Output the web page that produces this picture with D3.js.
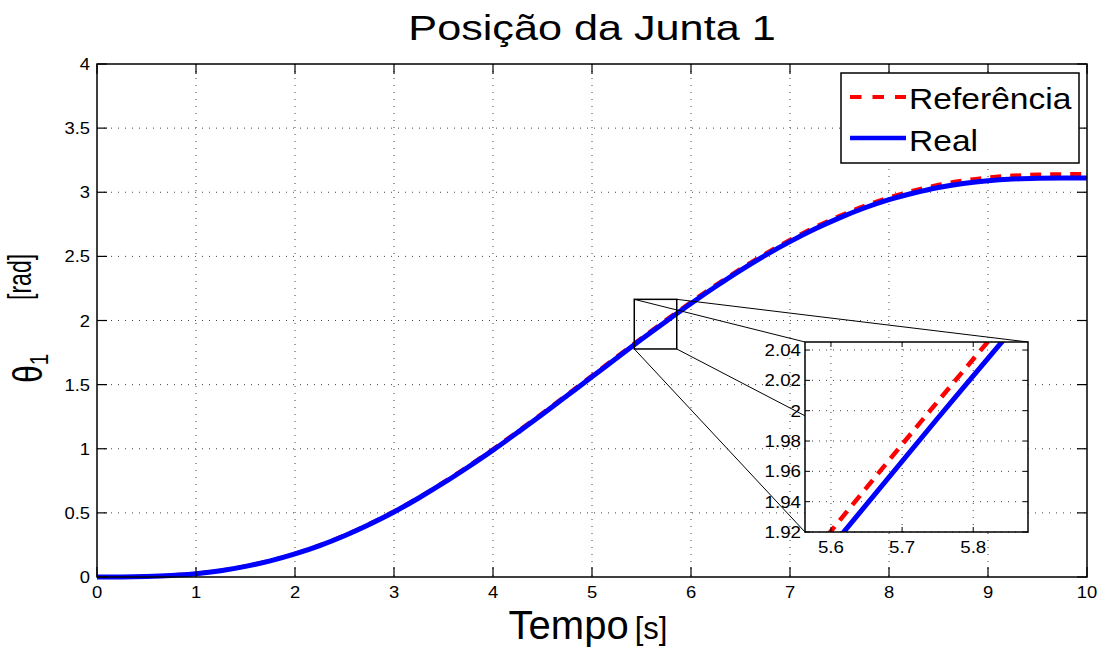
<!DOCTYPE html>
<html><head><meta charset="utf-8">
<script src="https://cdn.jsdelivr.net/npm/d3@7"></script>
<style>body{margin:0;background:#fff}svg{display:block}text{font-family:"Liberation Sans",Arial,sans-serif;fill:#000}</style>
</head><body><svg id="c" width="1104" height="649"></svg>
<script>
// ---- data ----
const time = [0,0.25,0.5,0.75,1,1.25,1.5,1.75,2,2.25,2.5,2.75,3,3.25,3.5,3.75,4,4.25,4.5,4.75,5,5.25,5.5,5.75,6,6.25,6.5,6.75,7,7.25,7.5,7.75,8,8.25,8.5,8.75,9,9.25,9.5,9.75,10];
const referencia = [0,0.0005,0.004,0.012,0.027,0.050,0.084,0.127,0.182,0.248,0.325,0.414,0.512,0.621,0.739,0.865,0.997,1.136,1.278,1.424,1.571,1.718,1.863,2.006,2.144,2.277,2.403,2.521,2.629,2.728,2.816,2.894,2.960,3.014,3.058,3.091,3.115,3.130,3.138,3.141,3.142];
const real = [0,0.0005,0.004,0.012,0.026,0.049,0.083,0.126,0.180,0.245,0.322,0.410,0.507,0.616,0.733,0.858,0.989,1.128,1.269,1.415,1.561,1.708,1.853,1.995,2.133,2.265,2.391,2.508,2.615,2.713,2.800,2.877,2.942,2.994,3.037,3.068,3.090,3.103,3.109,3.111,3.111];
const xTicks = [0,1,2,3,4,5,6,7,8,9,10];
const yTicks = [0,0.5,1,1.5,2,2.5,3,3.5,4];
const insetXTicks = [5.6,5.7,5.8];
const insetYTicks = [1.92,1.94,1.96,1.98,2.00,2.02,2.04];
const insetXDomain = [5.5635,5.877];
const insetYDomain = [1.92,2.0453];
const zoomRectX = [5.427,5.856];
const zoomRectY = [1.778,2.165];
const seriesNames = ["Referência","Real"];
const titleText = "Posição da Junta 1";

const svg = d3.select("#c");
const L=97,R=1087,T=64,B=577;
const x = d3.scaleLinear([0,10],[L,R]);
const y = d3.scaleLinear([0,4],[B,T]);
const pts = (vals)=>time.map((t,i)=>[t,vals[i]]);

function stretchedText(parent, tx, ty, str, size, sx, anchor, rot){
  const g = parent.append("g").attr("transform",`translate(${tx},${ty})${rot?" rotate(-90)":""} scale(${sx},1)`);
  return g.append("text").attr("font-size",size).attr("text-anchor",anchor||"start").text(str);
}

// grid
const grid = svg.append("g").attr("stroke","#444").attr("stroke-width",1).attr("stroke-dasharray","1,6");
xTicks.slice(1,-1).forEach(v=>grid.append("line").attr("x1",x(v)).attr("x2",x(v)).attr("y1",T).attr("y2",B));
yTicks.slice(1,-1).forEach(v=>grid.append("line").attr("y1",y(v)).attr("y2",y(v)).attr("x1",L).attr("x2",R));

// curves
const line = d3.line().x(d=>x(d[0])).y(d=>y(d[1])).curve(d3.curveMonotoneX);
const defs = svg.append("defs");
defs.append("clipPath").attr("id","mainclip").append("rect").attr("x",L).attr("y",T).attr("width",R-L).attr("height",B-T+4);
const cg = svg.append("g").attr("clip-path","url(#mainclip)");
cg.append("path").attr("d",line(pts(referencia))).attr("fill","none").attr("stroke","#ff0000").attr("stroke-width",4).attr("stroke-dasharray","11,9");
cg.append("path").attr("d",line(pts(real))).attr("fill","none").attr("stroke","#0000ff").attr("stroke-width",5);

// axes box + ticks
svg.append("rect").attr("x",L).attr("y",T).attr("width",R-L).attr("height",B-T).attr("fill","none").attr("stroke","#000").attr("stroke-width",1.5);
const tk = svg.append("g").attr("stroke","#000").attr("stroke-width",1.2);
xTicks.forEach(v=>{tk.append("line").attr("x1",x(v)).attr("x2",x(v)).attr("y1",B).attr("y2",B-10);tk.append("line").attr("x1",x(v)).attr("x2",x(v)).attr("y1",T).attr("y2",T+10);});
yTicks.forEach(v=>{tk.append("line").attr("y1",y(v)).attr("y2",y(v)).attr("x1",L).attr("x2",L+10);tk.append("line").attr("y1",y(v)).attr("y2",y(v)).attr("x1",R).attr("x2",R-10);});
xTicks.forEach(v=>stretchedText(svg,x(v),598,d3.format("")(v),16,1.15,"middle"));
yTicks.forEach(v=>stretchedText(svg,90,y(v)+6,d3.format("")(v),16,1.15,"end"));

// title
stretchedText(svg,(L+R)/2,40,titleText,36,1.2,"middle");
// x label
const xl = svg.append("text").attr("x",588).attr("y",639).attr("text-anchor","middle");
xl.append("tspan").attr("font-size",40).text("Tempo");
xl.append("tspan").attr("font-size",31).attr("dx",6).text("[s]");
// y label
const yl = svg.append("g").attr("transform","translate(42,383) rotate(-90) scale(0.8,1)").append("text");
yl.append("tspan").attr("font-size",40).text("θ");
yl.append("tspan").attr("font-size",26).attr("dy",6).text("1");
stretchedText(svg,31,300,"[rad]",33,0.7,"start",true);

// zoom rectangle + connectors
const ix = d3.scaleLinear(insetXDomain,[805,1028]);
const iy = d3.scaleLinear(insetYDomain,[532,342]);
const rx0=x(zoomRectX[0]),rx1=x(zoomRectX[1]),ry0=y(zoomRectY[1]),ry1=y(zoomRectY[0]);
const con = svg.append("g").attr("stroke","#000").attr("stroke-width",1);
con.append("rect").attr("x",rx0).attr("y",ry0).attr("width",rx1-rx0).attr("height",ry1-ry0).attr("fill","none").attr("stroke-width",1.5);
[[rx0,ry0,ix.range()[0],iy.range()[1]],[rx1,ry0,ix.range()[1],iy.range()[1]],[rx0,ry1,ix.range()[0],iy.range()[0]],[rx1,ry1,ix.range()[1],iy.range()[0]]]
  .forEach(c=>con.append("line").attr("x1",c[0]).attr("y1",c[1]).attr("x2",c[2]).attr("y2",c[3]));

// inset
const ig = svg.append("g");
const IL=805,IR=1028,IT=342,IB=532;
ig.append("rect").attr("x",IL).attr("y",IT).attr("width",IR-IL).attr("height",IB-IT).attr("fill","#fff");
const igrid = ig.append("g").attr("stroke","#444").attr("stroke-width",1).attr("stroke-dasharray","1,6");
insetXTicks.forEach(v=>igrid.append("line").attr("x1",ix(v)).attr("x2",ix(v)).attr("y1",IT).attr("y2",IB));
insetYTicks.forEach(v=>igrid.append("line").attr("y1",iy(v)).attr("y2",iy(v)).attr("x1",IL).attr("x2",IR));
defs.append("clipPath").attr("id","insetclip").append("rect").attr("x",IL).attr("y",IT).attr("width",IR-IL).attr("height",IB-IT);
const iline = d3.line().x(d=>ix(d[0])).y(d=>iy(d[1])).curve(d3.curveMonotoneX);
const icg = ig.append("g").attr("clip-path","url(#insetclip)");
icg.append("path").attr("d",iline(pts(referencia))).attr("fill","none").attr("stroke","#ff0000").attr("stroke-width",4.5).attr("stroke-dasharray","12,8");
icg.append("path").attr("d",iline(pts(real))).attr("fill","none").attr("stroke","#0000ff").attr("stroke-width",5);
ig.append("rect").attr("x",IL).attr("y",IT).attr("width",IR-IL).attr("height",IB-IT).attr("fill","none").attr("stroke","#000").attr("stroke-width",1.5);
const itk = ig.append("g").attr("stroke","#000").attr("stroke-width",1);
insetXTicks.forEach(v=>{itk.append("line").attr("x1",ix(v)).attr("x2",ix(v)).attr("y1",IB).attr("y2",IB-5);itk.append("line").attr("x1",ix(v)).attr("x2",ix(v)).attr("y1",IT).attr("y2",IT+5);});
insetYTicks.forEach(v=>{itk.append("line").attr("y1",iy(v)).attr("y2",iy(v)).attr("x1",IL).attr("x2",IL+5);itk.append("line").attr("y1",iy(v)).attr("y2",iy(v)).attr("x1",IR).attr("x2",IR-5);});
insetXTicks.forEach(v=>stretchedText(ig,ix(v),553,d3.format("")(v),17,1.1,"middle"));
insetYTicks.forEach(v=>stretchedText(ig,801,iy(v)+6,d3.format("")(+v.toFixed(2)),17,1.1,"end"));

// legend
const lg = svg.append("g");
lg.append("rect").attr("x",841).attr("y",73).attr("width",238).attr("height",90).attr("fill","#fff").attr("stroke","#000").attr("stroke-width",1.5);
lg.append("line").attr("x1",850).attr("x2",906).attr("y1",97).attr("y2",97).attr("stroke","#ff0000").attr("stroke-width",4).attr("stroke-dasharray","11.5,11");
lg.append("line").attr("x1",850).attr("x2",906).attr("y1",138).attr("y2",138).attr("stroke","#0000ff").attr("stroke-width",4.5);
stretchedText(lg,909,109,seriesNames[0],30,1.12,"start");
stretchedText(lg,909,151,seriesNames[1],30,1.12,"start");
</script></body></html>
